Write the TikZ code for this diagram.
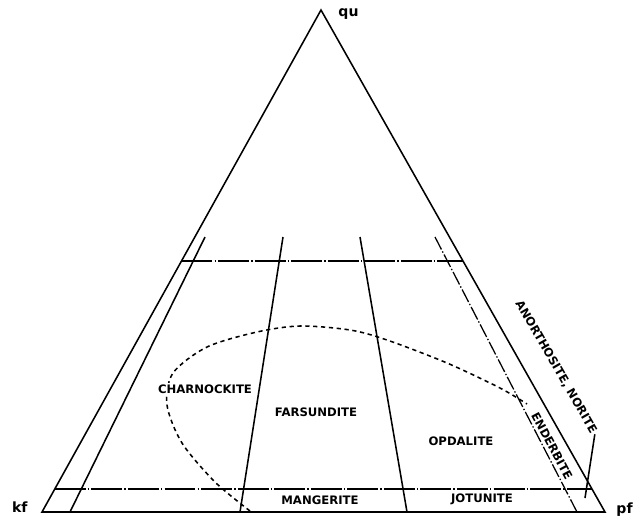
\documentclass[tikz,border=0pt]{standalone}
\usepackage{fontspec}
\setsansfont{DejaVu Sans}
\usetikzlibrary{calc}
\begin{document}
\begin{tikzpicture}[x=0.025cm, y=-0.025cm, line width=1.1pt,
    every node/.style={font=\sffamily\bfseries\fontsize{10}{10}\selectfont},
    field/.style={font=\sffamily\bfseries\fontsize{8.3}{8.3}\selectfont, inner sep=1pt},
    tieline/.style={line width=0.9pt, dash pattern=on 22pt off 1.5pt on 1pt off 1.5pt},
    fieldlimit/.style={dash pattern=on 3pt off 2.6pt}]
  \useasboundingbox (0,0) rectangle (633,520);
  % --- corners ---
  \coordinate (qu) at (321,10);
  \coordinate (kf) at (42,512);
  \coordinate (pf) at (605,512);
  \draw (kf) -- (qu) -- (pf) -- cycle;
  \node[anchor=west] (qulab) at (333,14) {qu};
  \node[anchor=east] (kflab) at (33,507) {kf};
  \node[anchor=west] (pflab) at (611,510) {pf};
  % --- horizontal ties ---
  \draw[tieline] ($(kf)!0.5!(qu)$) -- ($(pf)!0.5!(qu)$);
  \draw[tieline] ($(kf)!0.046!(qu)$) -- ($(pf)!0.046!(qu)$);
  % --- field dividers ---
  \draw (205,237) -- (70,512);
  \draw (283,237) -- (240,512);
  \draw (360,237) -- (407,512);
  \draw[tieline, dash pattern=on 10pt off 1.5pt on 1pt off 1.5pt] (435,237) -- (577,512);
  % --- charnockite limit ---
  \draw[fieldlimit] plot[smooth] coordinates {(250,511) (215,482) (182,443) (167,405)
    (173,373) (207,347) (257,332) (300,326) (350,330) (387,340) (447,363) (500,388) (527,404)};
  % --- rock names ---
  \node[field, fill=white] (charn) at (205,389) {CHARNOCKITE};
  \node[field] (farsu) at (316,412) {FARSUNDITE};
  \node[field] (opdal) at (461,441) {OPDALITE};
  \node[field] (mange) at (320,500) {MANGERITE};
  \node[field] (jotun) at (482,499) {JOTUNITE};
  \node[field, rotate=-62] (ender) at (552,446) {ENDERBITE};
  \node[field, rotate=-60] (anort) at (556,367) {ANORTHOSITE, NORITE};
  \coordinate (anortend) at (585,498);
  \draw (anort.east) -- (anortend);
\end{tikzpicture}
\end{document}
